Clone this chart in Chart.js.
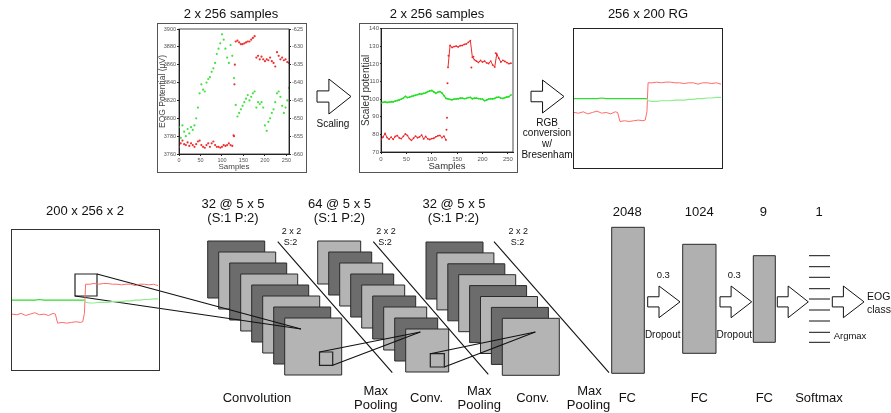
<!DOCTYPE html>
<html>
<head>
<meta charset="utf-8">
<script src="https://cdn.jsdelivr.net/npm/chart.js@4/dist/chart.umd.min.js"></script>
<style>
html, body { margin: 0; padding: 0; background: #fff; }
body { width: 891px; height: 413px; position: relative; overflow: hidden; font-family: "Liberation Sans", Arial, sans-serif; color: #111; }
.box { position: absolute; box-sizing: border-box; }
.lbl { position: absolute; white-space: nowrap; transform: translate(-50%, -50%); line-height: 1; }
.lbl.left { transform: translate(0, -50%); }
canvas { display: block; }
</style>
</head>
<body>
<canvas id="bg" width="891" height="413" style="position:absolute;left:0;top:0"></canvas>
<div class="box" style="left:157px;top:23px;width:150px;height:150px;border:1px solid #555"><canvas id="raw" width="148" height="148"></canvas></div>
<div class="box" style="left:359px;top:23px;width:159px;height:150px;border:1px solid #555"><canvas id="scaled" width="157" height="148"></canvas></div>
<div class="box" style="left:573px;top:28px;width:150px;height:141px;border:1.5px solid #222"><canvas id="rg" width="147" height="138"></canvas></div>
<div class="box" style="left:11px;top:229px;width:149px;height:142px;border:1.5px solid #333"><canvas id="input" width="146" height="139"></canvas></div>
<script>
// samples (every 4th of 256)
const samples = [0,4,8,12,16,20,24,28,32,36,40,44,48,52,56,60,64,68,72,76,80,84,88,92,96,100,104,108,112,116,120,124,128,
  132,136,140,144,148,152,156,160,164,168,172,176,180,184,188,192,196,200,204,208,212,216,220,224,228,232,236,240,244,248,252,256];

// raw EOG potential (uV)
const rawGreen = [3790,3778,3792,3785,3780,3788,3783,3790,3787,3792,3800,3812,3828,3838,3832,3830,3840,3844,3846,3852,3856,3862,3872,3878,3884,3894,3888,3878,3868,3862,3882,3870,3845,
  3815,3802,3806,3810,3814,3818,3822,3826,3820,3824,3828,3830,3812,3818,3816,3818,3812,3792,3786,3796,3800,3806,3810,3818,3828,3830,3824,3814,3806,3812,3820,3834];
const rawRed = [3768,3772,3775,3771,3770,3773,3769,3772,3770,3768,3771,3774,3775,3770,3768,3767,3770,3772,3768,3772,3774,3770,3768,3768,3767,3768,3770,3769,3770,3772,3770,3769,3780,
  3886,3887,3885,3883,3883,3884,3885,3886,3886,3888,3890,3892,3868,3870,3866,3869,3866,3864,3866,3865,3868,3864,3862,3858,3874,3870,3866,3868,3865,3866,3863,3862];
const rawJumpX = [127,129,130];
const rawJumpRed = [3781,3838,3860];

// scaled potential
const scaledGreen = [97.8,98.2,98.4,98.1,98.3,98.5,98.4,98.9,99.2,99.5,100,100.6,101.6,100.9,101.1,101.5,101.9,102.2,102.6,103,102.8,103.3,103.6,104.2,104.6,104.9,104.1,103.3,103.9,104.3,103.5,102,100.4,
  100.1,99.8,99.6,100,100.1,100.2,100.5,100.6,100.3,100.4,100.9,101,100.2,100.5,100.6,100.3,100.1,100,99.1,99.5,100,100.3,100.1,100.4,101,101.1,100.6,100.4,100.8,101.2,101.4,102.4];
const scaledRed = [77,78.5,80.5,78.2,77.3,78.4,77.2,78.8,79.3,78,77.6,78.9,80.2,79.4,77.6,76.6,77.8,79,78.1,78.6,79.6,77.4,78.8,77.5,77.1,77.6,77.8,78.6,79.2,79.4,78.2,79,76.8,
  118,130.4,129.3,129.8,130.1,129.6,130.3,130.4,131,131.3,132.2,133.2,123.7,122.4,121.5,120.8,121.9,121,121.6,120.6,120.2,121.5,119.4,118.2,125.6,123.2,121,122,121.4,120.7,120.1,120.4];
const scaledJumpX = [129,130,131,133,178,182,226];
const scaledJumpRed = [82.6,89.4,109,124.6,118,124,126];

// RG image rows (0 = top row of 200)
const rgX = [0,8,16,24,32,40,48,56,64,72,76,80,88,96,104,112,120,124,127,129,136,144,152,160,168,176,184,192,200,208,216,224,232,240,248,256];
const rgRed = [121,122,120,123,121,119,122,121,123,120,121,134,133,134,133,132,133,132,120,78,78,77,78,77,77,78,78,79,78,78,80,78,78,79,78,80];
const rgGreen = [101,101,101,101,101,101,100,101,101,101,101,101,101,101,101,101,101,101,101,104,105,105,104,104,104,103,103,103,102,102,101,101,100,100,99,99];

// tick labels
const sampleTicks = [0,50,100,150,200,250];
const eogTicks = [3760,3780,3800,3820,3840,3860,3880,3900];
const eogRightTicks = [-660,-655,-650,-645,-640,-635,-630,-625];
const scaledTicks = [70,80,90,100,110,120,130,140];

Chart.defaults.font.family = '"Liberation Sans", Arial, sans-serif';
Chart.defaults.animation = false;

const pts = (xs, ys) => xs.map((v, i) => ({ x: v, y: ys[i] }));
const fixedTicks = list => s => { s.ticks = list.map(v => ({ value: v })); };
const fitWidth = w => s => { s.width = w; };
const fitHeight = h => s => { s.height = h; };

const frame = {
  id: 'frame',
  afterDraw(chart) {
    const a = chart.chartArea, ctx = chart.ctx;
    ctx.save();
    ctx.strokeStyle = '#222';
    ctx.lineWidth = 0.8;
    ctx.strokeRect(a.left, a.top, a.right - a.left, a.bottom - a.top);
    ctx.restore();
  }
};

const noPlugins = { legend: { display: false }, tooltip: { enabled: false } };
const tickFont = size => ({ font: { size: size }, color: '#555', padding: 1, autoSkip: false, maxRotation: 0, callback: v => String(v) });
const axisGrid = { drawOnChartArea: false, tickLength: 2, color: '#222' };

// raw samples plot
new Chart(document.getElementById('raw'), {
  type: 'scatter',
  data: {
    datasets: [
      { data: pts(samples, rawGreen), backgroundColor: '#44e044', pointRadius: 1.1, borderWidth: 0 },
      { data: pts(samples, rawRed), backgroundColor: '#ee3030', pointRadius: 1.1, borderWidth: 0 },
      { data: pts(rawJumpX, rawJumpRed), backgroundColor: '#ee3030', pointRadius: 1.1, borderWidth: 0 }
    ]
  },
  options: {
    responsive: false, devicePixelRatio: 1,
    layout: { padding: { top: 5, right: 0, left: 0, bottom: 0 } },
    plugins: noPlugins,
    scales: {
      x: { type: 'linear', min: 0, max: 256, afterBuildTicks: fixedTicks(sampleTicks), afterFit: fitHeight(18),
        grid: axisGrid, border: { color: '#222' }, ticks: tickFont(5.5),
        title: { display: true, text: 'Samples', font: { size: 8 }, color: '#444', padding: 0 } },
      y: { type: 'linear', min: 3760, max: 3900, afterBuildTicks: fixedTicks(eogTicks), afterFit: fitWidth(21),
        grid: axisGrid, border: { color: '#222' }, ticks: tickFont(5.5),
        title: { display: true, text: 'EOG Potential (μV)', font: { size: 8.5 }, color: '#444', padding: 0 } },
      y2: { type: 'linear', position: 'right', min: -660, max: -625, afterBuildTicks: fixedTicks(eogRightTicks), afterFit: fitWidth(17),
        grid: axisGrid, border: { color: '#222' }, ticks: tickFont(5.5) }
    }
  },
  plugins: [frame]
});

// scaled plot
new Chart(document.getElementById('scaled'), {
  type: 'scatter',
  data: {
    datasets: [
      { data: pts(samples, scaledGreen), borderColor: '#22e022', backgroundColor: '#22e022', showLine: true, borderWidth: 1.3, pointRadius: 0.9, pointBorderWidth: 0 },
      { data: pts(samples.slice(0, 33), scaledRed.slice(0, 33)), borderColor: '#ee2828', backgroundColor: '#ee2828', showLine: true, borderWidth: 1, pointRadius: 0.9, pointBorderWidth: 0 },
      { data: pts(samples.slice(33), scaledRed.slice(33)), borderColor: '#ee2828', backgroundColor: '#ee2828', showLine: true, borderWidth: 1, pointRadius: 0.9, pointBorderWidth: 0 },
      { data: pts(scaledJumpX, scaledJumpRed), backgroundColor: '#ee2828', pointRadius: 1, borderWidth: 0 }
    ]
  },
  options: {
    responsive: false, devicePixelRatio: 1,
    layout: { padding: { top: 2, right: 1, left: 0, bottom: 0 } },
    plugins: noPlugins,
    scales: {
      x: { type: 'linear', min: 0, max: 260, afterBuildTicks: fixedTicks(sampleTicks), afterFit: fitHeight(20),
        grid: axisGrid, border: { color: '#222' }, ticks: Object.assign(tickFont(6), { padding: 2 }),
        title: { display: true, text: 'Samples', font: { size: 9.5 }, color: '#333', padding: 0 } },
      y: { type: 'linear', min: 70, max: 140, afterBuildTicks: fixedTicks(scaledTicks), afterFit: fitWidth(21),
        grid: Object.assign({}, axisGrid, { tickLength: 1 }), border: { color: '#222' }, ticks: tickFont(6),
        title: { display: true, text: 'Scaled potential', font: { size: 10 }, color: '#333', padding: 0 } }
    }
  },
  plugins: [frame]
});

// RG line images
function rgChart(id) {
  new Chart(document.getElementById(id), {
    type: 'scatter',
    data: {
      datasets: [
        { data: pts(rgX, rgGreen), showLine: true, pointRadius: 0, borderWidth: 1.2, borderColor: '#2fdc2f',
          segment: { borderColor: c => c.p0.parsed.x >= 127 ? '#8eec8e' : '#2fdc2f' } },
        { data: pts(rgX, rgRed), showLine: true, pointRadius: 0, borderWidth: 1, borderColor: '#ff6a6a' }
      ]
    },
    options: {
      responsive: false, devicePixelRatio: 1,
      layout: { padding: 0 },
      plugins: noPlugins,
      scales: {
        x: { display: false, type: 'linear', min: 0, max: 256 },
        y: { display: false, type: 'linear', min: 0, max: 200, reverse: true }
      }
    }
  });
}
rgChart('rg');
rgChart('input');

// network diagram drawn on a full-page chart through its scales
const stacks = [
  { x: 207.7, y: 241, step: 11, size: 57, n: 8, firstDark: true },
  { x: 317.7, y: 241, step: 11, size: 43, n: 9, firstDark: false },
  { x: 426, y: 242, step: 10.9, size: 57, n: 8, firstDark: true }
];
const fcBoxes = [[611.7, 227.3, 644.3, 373.3], [682.7, 244.3, 716, 353.3], [753.3, 255.7, 775.3, 342.3]];
const arrows = [[317, 79, 351, 114], [531, 80, 564, 113], [647.7, 286, 680, 317.7], [720, 286, 751.7, 317.7], [777.3, 286, 808.3, 317.7], [832.3, 286, 864, 317.7]];
const softmaxRows = [255.7, 266.7, 277.3, 288.7, 299, 310, 321, 332.3, 342.3];
const poolLines = [[277.7, 241.7, 392.3, 372.7], [373.3, 241.7, 488.3, 374.3], [494, 241.7, 609, 372.7]];
const zooms = [
  { sq: [75, 274, 97, 296], from: [[97, 274], [75, 296]], to: [301, 329] },
  { sq: [319.5, 352, 332.7, 365.3], from: [[319.5, 352], [332.7, 365.3]], to: [420.3, 332] },
  { sq: [430.3, 353.7, 444.3, 367], from: [[430.3, 353.7], [444.3, 367]], to: [535.3, 332] }
];

const diagram = {
  id: 'diagram',
  afterDraw(chart) {
    const ctx = chart.ctx;
    const X = v => chart.scales.x.getPixelForValue(v);
    const Y = v => chart.scales.y.getPixelForValue(v);
    const rect = (x0, y0, x1, y1, fill, stroke, lw) => {
      ctx.beginPath();
      ctx.rect(X(x0), Y(y0), X(x1) - X(x0), Y(y1) - Y(y0));
      if (fill) { ctx.fillStyle = fill; ctx.fill(); }
      ctx.strokeStyle = stroke; ctx.lineWidth = lw; ctx.stroke();
    };
    const line = (x0, y0, x1, y1, lw) => {
      ctx.beginPath();
      ctx.moveTo(X(x0), Y(y0)); ctx.lineTo(X(x1), Y(y1));
      ctx.strokeStyle = '#111'; ctx.lineWidth = lw; ctx.stroke();
    };
    ctx.save();
    stacks.forEach(s => {
      for (let i = 0; i < s.n; i++) {
        const dark = (i % 2 === 0) === s.firstDark;
        const x0 = s.x + i * s.step, y0 = s.y + i * s.step;
        rect(x0, y0, x0 + s.size, y0 + s.size, dark ? '#6c6c6c' : '#b4b4b4', '#2a2a2a', 1);
      }
    });
    fcBoxes.forEach(b => rect(b[0], b[1], b[2], b[3], '#b0b0b0', '#2a2a2a', 1));
    arrows.forEach(a => {
      const [x0, y0, x1, y1] = a, w = x1 - x0, h = y1 - y0;
      const xs = x0 + 0.35 * w, ym = (y0 + y1) / 2;
      ctx.beginPath();
      ctx.moveTo(X(x0), Y(y0 + 0.34 * h));
      ctx.lineTo(X(xs), Y(y0 + 0.34 * h));
      ctx.lineTo(X(xs), Y(y0));
      ctx.lineTo(X(x1), Y(ym));
      ctx.lineTo(X(xs), Y(y1));
      ctx.lineTo(X(xs), Y(y0 + 0.66 * h));
      ctx.lineTo(X(x0), Y(y0 + 0.66 * h));
      ctx.closePath();
      ctx.fillStyle = '#fff'; ctx.fill();
      ctx.strokeStyle = '#111'; ctx.lineWidth = 1; ctx.stroke();
    });
    softmaxRows.forEach(r => line(809, r, 830, r, 1));
    poolLines.forEach(p => line(p[0], p[1], p[2], p[3], 1.1));
    zooms.forEach(z => {
      rect(z.sq[0], z.sq[1], z.sq[2], z.sq[3], null, '#222', 1.2);
      z.from.forEach(f => line(f[0], f[1], z.to[0], z.to[1], 1.1));
    });
    ctx.restore();
  }
};

new Chart(document.getElementById('bg'), {
  type: 'scatter',
  data: { datasets: [] },
  options: {
    responsive: false, devicePixelRatio: 1,
    layout: { padding: 0 },
    plugins: noPlugins,
    scales: {
      x: { display: false, type: 'linear', min: 0, max: 891 },
      y: { display: false, type: 'linear', min: 0, max: 413, reverse: true }
    }
  },
  plugins: [diagram]
});

// text labels
const labels = [
  ['2 x 256 samples', 231, 12.5, 13], ['2 x 256 samples', 437, 13, 13], ['256 x 200 RG', 648, 13, 13],
  ['Scaling', 333, 124, 10],
  ['RGB', 547, 122.7, 10], ['conversion', 547, 133.3, 10], ['w/', 547, 144.3, 10], ['Bresenham', 547, 155, 10],
  ['200 x 256 x 2', 85, 210, 13],
  ['32 @ 5 x 5', 233, 202.7, 13], ['(S:1 P:2)', 233, 217, 13],
  ['64 @ 5 x 5', 339.5, 202.7, 13], ['(S:1 P:2)', 339.5, 217, 13],
  ['32 @ 5 x 5', 454, 202.7, 13], ['(S:1 P:2)', 453.5, 217, 13],
  ['2 x 2', 291.5, 230.7, 9], ['S:2', 290.5, 241.7, 9],
  ['2 x 2', 386, 230.7, 9], ['S:2', 385, 241.7, 9],
  ['2 x 2', 518.3, 230.7, 9], ['S:2', 517.5, 242.3, 9],
  ['Convolution', 257, 397, 13],
  ['Max', 375.7, 389.5, 13], ['Pooling', 375.7, 403.5, 13],
  ['Conv.', 426.5, 397, 13],
  ['Max', 479.3, 389.5, 13], ['Pooling', 479.3, 403.5, 13],
  ['Conv.', 532.7, 397, 13],
  ['Max', 589.5, 389.5, 13], ['Pooling', 588.5, 403.5, 13],
  ['FC', 627.3, 397, 13], ['FC', 699.3, 397, 13], ['FC', 764.3, 397, 13], ['Softmax', 819, 397, 13],
  ['2048', 627.3, 210.7, 13], ['1024', 699.3, 210.7, 13], ['9', 763.3, 210.7, 13], ['1', 819, 210.7, 13],
  ['0.3', 663.3, 275, 9.5], ['0.3', 734.3, 275, 9.5],
  ['Dropout', 662.7, 335, 10], ['Dropout', 734.3, 335, 10],
  ['Argmax', 850, 336, 9.5]
];
labels.forEach(l => {
  const d = document.createElement('div');
  d.className = 'lbl';
  d.textContent = l[0];
  d.style.left = l[1] + 'px';
  d.style.top = l[2] + 'px';
  d.style.fontSize = l[3] + 'px';
  document.body.appendChild(d);
});
[['EOG', 867, 295.5], ['class', 867, 308.5]].forEach(l => {
  const d = document.createElement('div');
  d.className = 'lbl left';
  d.textContent = l[0];
  d.style.left = l[1] + 'px';
  d.style.top = l[2] + 'px';
  d.style.fontSize = '10.5px';
  document.body.appendChild(d);
});
</script>
</body>
</html>
